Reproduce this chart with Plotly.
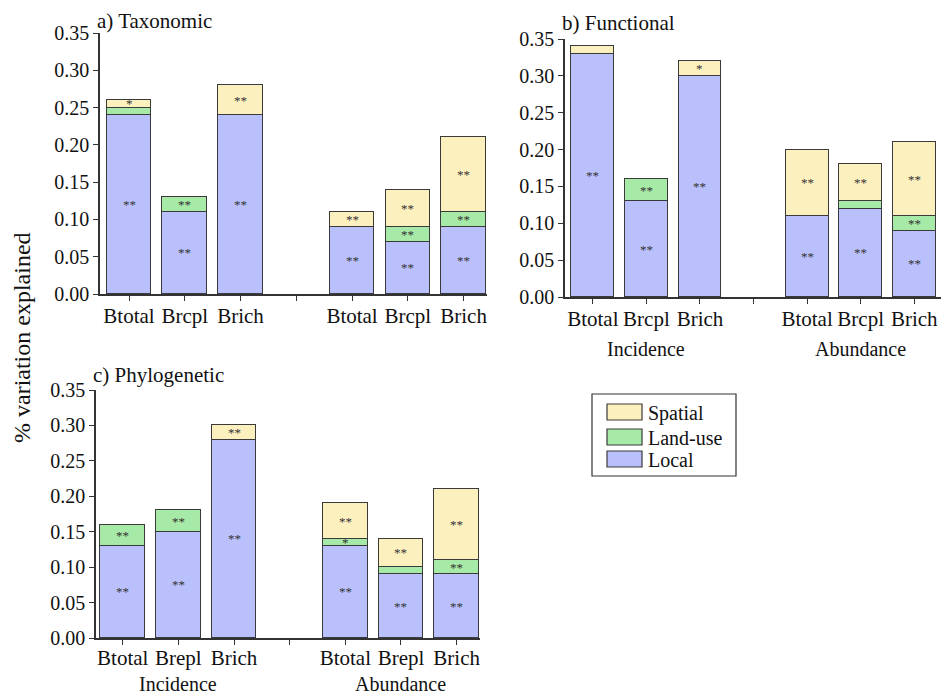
import plotly.graph_objects as go

# ---- data -------------------------------------------------------------
labels_ab = ["Btotal", "Brcpl", "Brich", "Btotal", "Brcpl", "Brich"]
labels_c = ["Btotal", "Brepl", "Brich", "Btotal", "Brepl", "Brich"]
slots = [0, 1, 2, 4, 5, 6]          # slot 3 is the gap between the two groups
groups = ["Incidence", "Abundance"]

tax_local = [0.24, 0.11, 0.24, 0.09, 0.07, 0.09]
tax_land = [0.01, 0.02, 0.00, 0.00, 0.02, 0.02]
tax_spatial = [0.01, 0.00, 0.04, 0.02, 0.05, 0.10]
tax_sig_local = ["**", "**", "**", "**", "**", "**"]
tax_sig_land = ["", "**", "", "", "**", "**"]
tax_sig_spatial = ["*", "", "**", "**", "**", "**"]

fun_local = [0.33, 0.13, 0.30, 0.11, 0.12, 0.09]
fun_land = [0.00, 0.03, 0.00, 0.00, 0.01, 0.02]
fun_spatial = [0.01, 0.00, 0.02, 0.09, 0.05, 0.10]
fun_sig_local = ["**", "**", "**", "**", "**", "**"]
fun_sig_land = ["", "**", "", "", "", "**"]
fun_sig_spatial = ["", "", "*", "**", "**", "**"]

phy_local = [0.13, 0.15, 0.28, 0.13, 0.09, 0.09]
phy_land = [0.03, 0.03, 0.00, 0.01, 0.01, 0.02]
phy_spatial = [0.00, 0.00, 0.02, 0.05, 0.04, 0.10]
phy_sig_local = ["**", "**", "**", "**", "**", "**"]
phy_sig_land = ["**", "**", "", "*", "", "**"]
phy_sig_spatial = ["", "", "**", "**", "**", "**"]

y_ticks = [0.0, 0.05, 0.10, 0.15, 0.20, 0.25, 0.30, 0.35]

# ---- styling ----------------------------------------------------------
FONT = "Liberation Serif"
COL_LOCAL = "#b9c0fb"
COL_LAND = "#a7e9a7"
COL_SPATIAL = "#fdf0bf"
EDGE = "#3a3a3a"
AXIS = "#333333"
TEXT = "#111111"

panels = [
    dict(title="a) Taxonomic", labels=labels_ab, local=tax_local, land=tax_land,
         spatial=tax_spatial, sig=(tax_sig_local, tax_sig_land, tax_sig_spatial),
         xdom=(100, 487), ydom=(294, 33), xr=(-0.52, 6.42), title_y=21,
         standoff=-3, groups=False),
    dict(title="b) Functional", labels=labels_ab, local=fun_local, land=fun_land,
         spatial=fun_spatial, sig=(fun_sig_local, fun_sig_land, fun_sig_spatial),
         xdom=(565, 941), ydom=(297, 39), xr=(-0.52, 6.5), title_y=23,
         standoff=-3, groups=True, group_y=349),
    dict(title="c) Phylogenetic", labels=labels_c, local=phy_local, land=phy_land,
         spatial=phy_spatial, sig=(phy_sig_local, phy_sig_land, phy_sig_spatial),
         xdom=(96, 480), ydom=(638, 390), xr=(-0.48, 6.42), title_y=375,
         standoff=-5, groups=True, group_y=684),
]

W, H = 952, 698
fig = go.Figure()
annotations = []
shapes = []


def px(x):
    return x / W


def py(y):
    return (H - y) / H


def nz(vals):
    return [v if v > 0 else None for v in vals]


for i, p in enumerate(panels, start=1):
    xa = "x" if i == 1 else f"x{i}"
    ya = "y" if i == 1 else f"y{i}"
    bottoms = [0.0] * len(slots)
    layers = [(p["local"], COL_LOCAL, "Local", p["sig"][0]),
              (p["land"], COL_LAND, "Land-use", p["sig"][1]),
              (p["spatial"], COL_SPATIAL, "Spatial", p["sig"][2])]
    for vals, col, name, sig in layers:
        fig.add_trace(go.Bar(
            x=slots, y=nz(vals), name=name, xaxis=xa, yaxis=ya,
            width=0.8, marker=dict(color=col, line=dict(color=EDGE, width=1.2)),
            showlegend=False, hoverinfo="skip"))
        # significance marks centred in each segment
        for s, b, v, t in zip(slots, bottoms, vals, sig):
            if t and v > 0:
                annotations.append(dict(
                    x=s, y=b + v / 2, xref=xa, yref=ya, text=t, showarrow=False,
                    font=dict(family=FONT, size=13, color="#333333"),
                    xanchor="center", yanchor="middle"))
        bottoms = [b + v for b, v in zip(bottoms, vals)]

    x0, x1 = p["xdom"]
    yb, yt = p["ydom"]
    axis_common = dict(showline=True, linecolor=AXIS, linewidth=1.5, ticks="outside",
                       ticklen=5, tickwidth=1.2, tickcolor=AXIS, showgrid=False,
                       zeroline=False, automargin=False)
    fig.update_layout(**{
        ("xaxis" if i == 1 else f"xaxis{i}"): dict(
            domain=[px(x0), px(x1)], anchor=ya, range=list(p["xr"]),
            tickmode="array", tickvals=[0, 1, 2, 3, 4, 5, 6],
            ticktext=p["labels"][:3] + [""] + p["labels"][3:],
            ticklabelstandoff=p["standoff"],
            tickfont=dict(family=FONT, size=21, color=TEXT), **axis_common),
        ("yaxis" if i == 1 else f"yaxis{i}"): dict(
            domain=[py(yb), py(yt)], anchor=xa, range=[0, 0.35],
            tickmode="array", tickvals=y_ticks,
            ticktext=[f"{v:.2f}" for v in y_ticks],
            tickfont=dict(family=FONT, size=20, color=TEXT), **axis_common),
    })

    annotations.append(dict(
        x=px(x0 - 5), y=py(p["title_y"]), xref="paper", yref="paper",
        text=p["title"], showarrow=False, xanchor="left", yanchor="middle",
        font=dict(family=FONT, size=21, color=TEXT)))
    if p["groups"]:
        for gx, g in zip([1, 5], groups):
            annotations.append(dict(
                x=gx, y=py(p["group_y"]), xref=xa, yref="paper", text=g,
                showarrow=False, xanchor="center", yanchor="middle",
                font=dict(family=FONT, size=20, color=TEXT)))

# shared y-axis title
annotations.append(dict(
    x=px(22), y=py(338), xref="paper", yref="paper",
    text="% variation explained", textangle=-90, showarrow=False,
    xanchor="center", yanchor="middle",
    font=dict(family=FONT, size=24, color=TEXT)))

# legend box drawn in paper space
shapes.append(dict(type="rect", xref="paper", yref="paper",
                   x0=px(592), x1=px(736), y0=py(476), y1=py(394),
                   line=dict(color=AXIS, width=1.2), fillcolor="white"))
legend_rows = [("Spatial", COL_SPATIAL, 412), ("Land-use", COL_LAND, 437),
               ("Local", COL_LOCAL, 459)]
for name, col, yc in legend_rows:
    shapes.append(dict(type="rect", xref="paper", yref="paper",
                       x0=px(607), x1=px(642), y0=py(yc + 8), y1=py(yc - 8),
                       line=dict(color=EDGE, width=1.2), fillcolor=col))
    annotations.append(dict(x=px(646), y=py(yc + 1), xref="paper", yref="paper",
                            text=name, showarrow=False, xanchor="left",
                            yanchor="middle",
                            font=dict(family=FONT, size=20, color=TEXT)))

fig.update_layout(
    width=W, height=H, margin=dict(l=0, r=0, t=0, b=0, autoexpand=False),
    paper_bgcolor="white", plot_bgcolor="white", barmode="stack",
    bargap=0, showlegend=False, annotations=annotations, shapes=shapes,
    font=dict(family=FONT),
)

fig.write_html("out.html")
